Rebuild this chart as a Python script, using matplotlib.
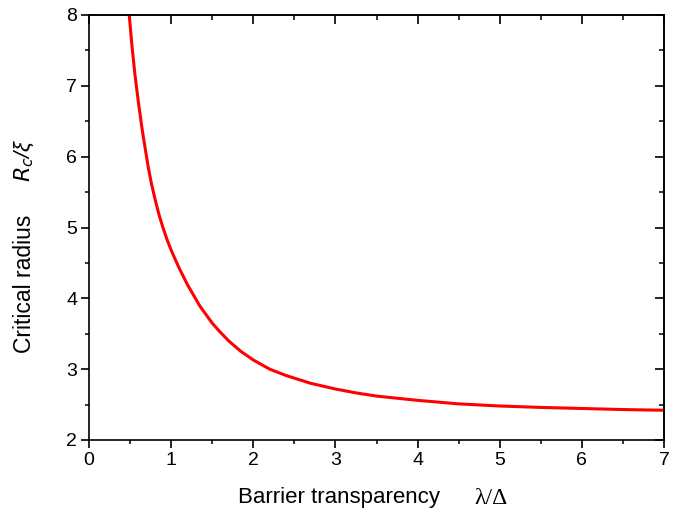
import matplotlib
matplotlib.use("Agg")
import matplotlib.pyplot as plt
import numpy as np

# data
lam = [0.49, 0.52, 0.56, 0.60, 0.65, 0.72, 0.76, 0.80, 0.85, 0.90, 0.95, 1.00, 1.10, 1.20,
       1.35, 1.50, 1.60, 1.70, 1.85, 2.00, 2.20, 2.40, 2.70, 3.00, 3.25, 3.50, 4.00, 4.50,
       5.00, 5.50, 6.00, 6.50, 7.00]
rc = [8.00, 7.60, 7.15, 6.78, 6.36, 5.86, 5.62, 5.42, 5.19, 5.00, 4.83, 4.68, 4.42, 4.19,
      3.89, 3.65, 3.52, 3.40, 3.25, 3.13, 3.00, 2.91, 2.80, 2.72, 2.665, 2.62, 2.56, 2.51,
      2.48, 2.46, 2.445, 2.43, 2.42]
xticks = [0, 1, 2, 3, 4, 5, 6, 7]
yticks = [2, 3, 4, 5, 6, 7, 8]

plt.rcParams['font.family'] = ['Liberation Sans', 'DejaVu Sans']

fig = plt.figure(figsize=(6.8, 5.13), dpi=100)
ax = fig.add_axes([89/680, 73/513, 575/680, 425/513])

ax.plot(lam, rc, color='#ff0000', lw=2.2, solid_joinstyle='round', clip_on=True)
ax.set_xlim(0, 7)
ax.set_ylim(2, 8)

MAJ, MIN = 5.5, 3.0
ax.set_xticks(xticks)
ax.set_yticks(yticks)
ax.set_xticks(np.arange(0, 7.01, 0.5), minor=True)
ax.set_yticks(np.arange(2, 8.01, 0.5), minor=True)
ax.tick_params(which='major', direction='out', length=MAJ, width=1.2, labelsize=14, pad=3)
ax.tick_params(which='minor', direction='out', length=MIN, width=1.1)
for s in ax.spines.values():
    s.set_linewidth(1.2)

top = ax.secondary_xaxis('top')
top.set_xticks(xticks)
top.set_xticks(np.arange(0, 7.01, 0.5), minor=True)
top.tick_params(which='major', direction='in', length=MAJ + 1, width=1.2, labeltop=False)
top.tick_params(which='minor', direction='in', length=MIN + 0.5, width=1.1)
top.spines['top'].set_linewidth(1.2)

right = ax.secondary_yaxis('right')
right.set_yticks(yticks)
right.set_yticks(np.arange(2, 8.01, 0.5), minor=True)
right.tick_params(which='major', direction='in', length=MAJ + 1, width=1.2, labelright=False)
right.tick_params(which='minor', direction='in', length=MIN + 0.5, width=1.1)
right.spines['right'].set_linewidth(1.2)

# axis titles
fig.text(339/680, 1 - 498/513, 'Barrier transparency', ha='center', va='center', fontsize=16)
fig.text(491/680, 1 - 498/513, 'λ/Δ', ha='center', va='center', fontsize=17,
         family=['Liberation Serif', 'DejaVu Serif'])
fig.text(25/680, 1 - 284/513, 'Critical radius', ha='center', va='center', fontsize=16.5,
         rotation=90)
fig.text(24/680, 1 - 160/513, r'$R_{c}$/ξ', ha='center', va='center', fontsize=16,
         rotation=90, family=['Liberation Sans', 'DejaVu Sans'], style='italic')

fig.savefig('out.png', dpi=100)
